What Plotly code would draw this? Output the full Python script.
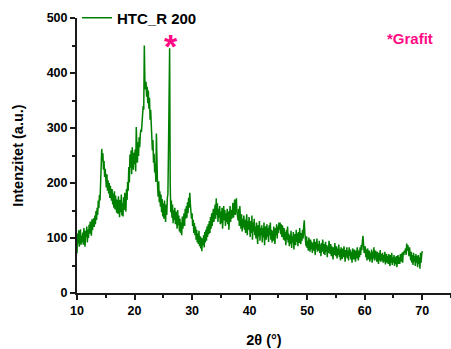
import numpy as np
import plotly.graph_objects as go

# 2-theta grid (degrees), 0.1 step from 10 to 70
two_theta = np.round(np.arange(10.0, 70.0001, 0.1), 1)

intensity = [
    72, 108, 90, 114, 84, 100, 116, 88, 104, 92,
    110, 88, 118, 97, 84, 113, 102, 121, 92, 115,
    100, 124, 108, 130, 111, 104, 134, 114, 127, 136,
    120, 141, 125, 149, 133, 155, 142, 168, 154, 178,
    168, 198, 226, 262, 240, 254, 224, 240, 211, 226,
    208, 192, 216, 186, 205, 181, 200, 173, 195, 177,
    168, 189, 161, 181, 155, 185, 152, 177, 163, 146,
    170, 144, 176, 151, 138, 169, 147, 179, 141, 163,
    139, 174, 151, 182, 158, 148, 189, 169, 202, 186,
    229, 201, 252, 228, 259, 216, 265, 237, 224, 255,
    234, 261, 221, 302, 259, 237, 274, 249, 283, 265,
    288, 297, 293, 319, 313, 340, 333, 450, 385, 370,
    384, 357, 375, 345, 368, 335, 355, 315, 333, 297,
    285, 259, 278, 237, 253, 219, 235, 202, 290, 195,
    195, 175, 203, 165, 185, 157, 179, 147, 171, 139,
    163, 135, 168, 147, 129, 161, 142, 173, 180, 260,
    335, 445, 200, 147, 168, 137, 161, 127, 151, 133,
    155, 125, 148, 130, 117, 151, 123, 141, 112, 135,
    109, 128, 105, 139, 117, 133, 145, 122, 153, 135,
    158, 137, 165, 145, 173, 155, 182, 162, 153, 135,
    145, 122, 133, 109, 127, 105, 121, 97, 115, 92,
    108, 89, 113, 85, 103, 81, 101, 76, 99, 87,
    105, 83, 111, 92, 115, 95, 121, 102, 125, 107,
    131, 109, 138, 117, 145, 122, 141, 153, 129, 148,
    161, 135, 172, 142, 163, 129, 153, 137, 158, 125,
    148, 127, 155, 117, 143, 158, 132, 151, 122, 145,
    129, 153, 125, 148, 115, 143, 158, 129, 151, 135,
    153, 164, 137, 161, 170, 142, 168, 172, 147, 139,
    132, 153, 122, 158, 129, 117, 143, 112, 135, 119,
    141, 115, 133, 109, 128, 143, 105, 131, 115, 138,
    123, 102, 131, 109, 141, 97, 128, 112, 135, 105,
    121, 99, 128, 107, 89, 123, 103, 131, 95, 118,
    105, 123, 92, 118, 101, 128, 87, 115, 121, 97,
    125, 102, 118, 93, 123, 105, 128, 97, 115, 92,
    113, 95, 121, 101, 89, 118, 105, 125, 99, 121,
    109, 128, 115, 128, 107, 125, 102, 123, 109, 97,
    118, 95, 111, 87, 115, 97, 121, 92, 108, 85,
    105, 89, 113, 82, 103, 92, 111, 79, 101, 107,
    87, 115, 93, 108, 85, 111, 91, 118, 97, 89,
    109, 95, 115, 99, 121, 132, 109, 92, 85, 103,
    82, 95, 77, 101, 83, 75, 97, 79, 93, 73,
    91, 77, 98, 81, 69, 93, 79, 99, 75, 89,
    77, 95, 73, 88, 67, 91, 75, 97, 79, 71,
    89, 69, 93, 75, 87, 65, 85, 73, 95, 77,
    71, 89, 67, 85, 73, 61, 83, 69, 91, 72,
    67, 85, 63, 81, 69, 88, 65, 79, 59, 83,
    69, 62, 81, 65, 85, 67, 57, 78, 65, 83,
    63, 77, 59, 83, 67, 79, 61, 75, 55, 81,
    67, 61, 79, 65, 57, 77, 63, 83, 67, 59,
    77, 65, 83, 69, 87, 78, 94, 104, 89, 73,
    75, 85, 65, 79, 59, 81, 67, 61, 77, 57,
    73, 61, 79, 55, 75, 63, 83, 59, 73, 77,
    63, 57, 75, 61, 53, 73, 59, 78, 57, 71,
    59, 73, 55, 69, 57, 75, 52, 67, 71, 55,
    67, 53, 71, 57, 49, 69, 55, 73, 51, 65,
    55, 69, 49, 65, 53, 67, 47, 63, 69, 53,
    65, 53, 71, 57, 67, 73, 55, 75, 69, 77,
    73, 81, 69, 90, 77, 87, 73, 67, 83, 63,
    59, 75, 55, 69, 51, 73, 57, 67, 49, 71,
    55, 67, 47, 69, 53, 65, 44, 73, 55, 69,
    76,
]

series_name = "HTC_R 200"
graphite_label = "*Grafit"
graphite_peak = (26.1, 445)

FONT = "Liberation Sans, Arial, sans-serif"
PINK = "#FF0A84"
AXIS = "#1a1a1a"

fig = go.Figure()
fig.add_trace(go.Scatter(
    x=two_theta, y=intensity, mode="lines", name=series_name,
    line=dict(color="#008000", width=1.5),
))

fig.add_annotation(
    x=graphite_peak[0], y=graphite_peak[1], xref="x", yref="y",
    text="<b>*</b>", showarrow=False, yanchor="bottom", yshift=-19, xshift=1,
    font=dict(family=FONT, size=34, color=PINK),
)
fig.add_annotation(
    x=1.0, y=0.925, xref="paper", yref="paper", xanchor="right", yanchor="middle",
    text="<b>" + graphite_label + "</b>", showarrow=False, xshift=-16,
    font=dict(family=FONT, size=15, color=PINK),
)

fig.update_layout(
    width=451, height=349,
    margin=dict(l=77, r=0, t=18, b=56),
    paper_bgcolor="white", plot_bgcolor="white",
    font=dict(family=FONT, size=12, color="black"),
    showlegend=True,
    legend=dict(x=0, y=1, xanchor="left", yanchor="middle",
                bgcolor="rgba(0,0,0,0)",
                font=dict(family=FONT, size=15, color="black", weight="bold")),
    xaxis=dict(
        range=[10, 75], showgrid=False, zeroline=False,
        showline=True, linecolor=AXIS, linewidth=2,
        ticks="outside", ticklen=5, tickwidth=1.5, tickcolor=AXIS,
        dtick=10, tick0=10,
        tickfont=dict(family=FONT, size=12.5, weight="bold"),
        minor=dict(ticks="outside", ticklen=3, dtick=5, tick0=10, tickcolor=AXIS, tickwidth=1.5),
        title=dict(text="<b>2θ (°)</b>", font=dict(family=FONT, size=14.5), standoff=18),
    ),
    yaxis=dict(
        range=[0, 500], showgrid=False, zeroline=False,
        showline=True, linecolor=AXIS, linewidth=2,
        ticks="outside", ticklen=5, tickwidth=1.5, tickcolor=AXIS,
        dtick=100, tick0=0,
        tickfont=dict(family=FONT, size=12.5, weight="bold"),
        minor=dict(ticks="outside", ticklen=3, dtick=50, tick0=0, tickcolor=AXIS, tickwidth=1.5),
        title=dict(text="<b>Intenzitet (a.u.)</b>", font=dict(family=FONT, size=14.5), standoff=20),
    ),
)

fig.write_html("out.html")
